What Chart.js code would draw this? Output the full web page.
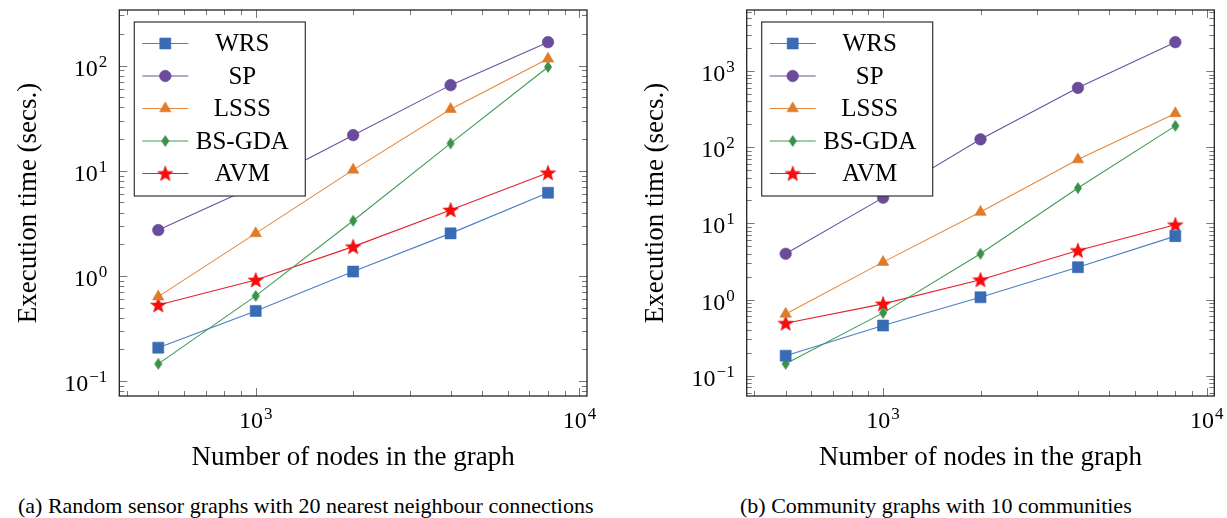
<!DOCTYPE html>
<html>
<head>
<meta charset="utf-8">
<script src="https://cdn.jsdelivr.net/npm/chart.js@4.4.0/dist/chart.umd.min.js"></script>
<style>
  body { margin: 0; background: #fff; width: 1227px; height: 518px; position: relative; overflow: hidden; font-family: "Liberation Serif", serif; }
  canvas { position: absolute; top: 0; }
  #chartA { left: 0; }
  #chartB { left: 627px; }
  .cap { position: absolute; top: 495px; font-size: 22px; line-height: 1; white-space: nowrap; color: #000; }
</style>
</head>
<body>
<canvas id="chartA" width="610" height="480"></canvas>
<canvas id="chartB" width="600" height="480"></canvas>
<div class="cap" style="left:18px">(a) Random sensor graphs with 20 nearest neighbour connections</div>
<div class="cap" style="left:740px">(b) Community graphs with 10 communities</div>
<script>
// number of nodes (x axis)
const nodes = [500, 1000, 2000, 4000, 8000];
const methods = ['WRS', 'SP', 'LSSS', 'BS-GDA', 'AVM'];

// (a) random sensor graphs, execution time in secs
const wrsA   = [0.208, 0.465, 1.10, 2.54, 6.18];
const spA    = [2.73, 7.2, 21.8, 65.2, 167];
const lsssA  = [0.636, 2.54, 10.2, 38.5, 116];
const bsgdaA = [0.146, 0.646, 3.35, 18.2, 97];
const avmA   = [0.53, 0.916, 1.90, 4.24, 9.57];

// (b) community graphs
const wrsB   = [0.183, 0.455, 1.07, 2.66, 6.8];
const spB    = [3.99, 21.8, 127, 603, 2400];
const lsssB  = [0.647, 3.1, 14.1, 68.9, 278];
const bsgdaB = [0.143, 0.668, 3.99, 29.1, 191];
const avmB   = [0.488, 0.877, 1.82, 4.41, 9.6];

const lineColors = ['#4a7fc1', '#6d4fa0', '#e8883a', '#3f9c55', '#e8202a'];
const markColors = ['#3a6bb5', '#6b4c9a', '#e07b2a', '#3a9147', '#ff0a0a'];

function starImg(color) {
  const c = document.createElement('canvas');
  c.width = c.height = 18;
  const g = c.getContext('2d');
  g.beginPath();
  for (let i = 0; i < 10; i++) {
    const a = -Math.PI / 2 + i * Math.PI / 5;
    const r = i % 2 ? 3.3 : 8;
    g.lineTo(9 + r * Math.cos(a), 9.6 + r * Math.sin(a));
  }
  g.closePath();
  g.fillStyle = color;
  g.fill();
  g.strokeStyle = '#d40000';
  g.lineWidth = 0.6;
  g.stroke();
  return c;
}
function diamondImg(color) {
  const c = document.createElement('canvas');
  c.width = 10; c.height = 14;
  const g = c.getContext('2d');
  g.beginPath();
  g.moveTo(5, 1); g.lineTo(9, 7); g.lineTo(5, 13); g.lineTo(1, 7);
  g.closePath();
  g.fillStyle = color;
  g.fill();
  return c;
}
const styles = ['rect', 'circle', 'triangle', diamondImg(markColors[3]), starImg(markColors[4])];
const radii = [7.8, 5.8, 6.6, 6, 8];

function makeSets(series) {
  return series.map((vals, i) => ({
    label: methods[i],
    data: nodes.map((n, j) => ({ x: n, y: vals[j] })),
    borderColor: lineColors[i],
    borderWidth: 1.1,
    backgroundColor: markColors[i],
    pointBackgroundColor: markColors[i],
    pointBorderColor: markColors[i],
    pointBorderWidth: 0.6,
    pointStyle: styles[i],
    pointRadius: radii[i],
    tension: 0
  }));
}

// pgfplots style: enlarge log limits by 10% on each side
function limits(arr) {
  const lo = Math.log10(Math.min(...arr)), hi = Math.log10(Math.max(...arr));
  const e = (hi - lo) * 0.1;
  return [Math.pow(10, lo - e), Math.pow(10, hi + e)];
}

function drawPow(ctx, exp, x, y, align) {
  ctx.font = '24px "Liberation Serif"';
  const w1 = ctx.measureText('10').width;
  ctx.font = '17px "Liberation Serif"';
  const w2 = ctx.measureText(String(exp).replace('-', '\u2212')).width;
  const total = w1 + w2 + 1;
  let x0 = align === 'right' ? x - total : x - total / 2;
  ctx.textAlign = 'left';
  ctx.textBaseline = 'alphabetic';
  ctx.font = '24px "Liberation Serif"';
  ctx.fillText('10', x0, y);
  ctx.font = '17px "Liberation Serif"';
  ctx.fillText(String(exp).replace('-', '\u2212'), x0 + w1 + 1, y - 9);
}

const frame = {
  id: 'frame',
  beforeDatasetsDraw(chart) {
    const { ctx, chartArea: a, scales } = chart;
    ctx.save();
    ctx.strokeStyle = '#777';
    ctx.lineWidth = 1;
    ['x', 'y'].forEach(k => {
      const s = scales[k];
      for (let p = Math.floor(Math.log10(s.min)); p <= Math.ceil(Math.log10(s.max)); p++) {
        for (let m = 1; m <= 9; m++) {
          const v = m * Math.pow(10, p);
          if (v < s.min || v > s.max) continue;
          const len = m === 1 ? 8 : 5;
          const pix = Math.round(s.getPixelForValue(v)) + 0.5;
          ctx.beginPath();
          if (k === 'x') {
            ctx.moveTo(pix, a.bottom); ctx.lineTo(pix, a.bottom - len);
            ctx.moveTo(pix, a.top); ctx.lineTo(pix, a.top + len);
          } else {
            ctx.moveTo(a.left, pix); ctx.lineTo(a.left + len, pix);
            ctx.moveTo(a.right, pix); ctx.lineTo(a.right - len, pix);
          }
          ctx.stroke();
        }
      }
    });
    ctx.restore();
  },
  afterDraw(chart) {
    const { ctx, chartArea: a, scales } = chart;
    ctx.save();
    ctx.strokeStyle = '#222';
    ctx.lineWidth = 1.3;
    ctx.strokeRect(a.left, a.top, a.right - a.left, a.bottom - a.top);
    ctx.fillStyle = '#000';
    // tick labels
    ['x', 'y'].forEach(k => {
      const s = scales[k];
      for (let p = Math.ceil(Math.log10(s.min)); p <= Math.floor(Math.log10(s.max) + 1e-9); p++) {
        const pix = s.getPixelForValue(Math.pow(10, p));
        if (k === 'x') drawPow(ctx, p, pix, a.bottom + 32, 'center');
        else drawPow(ctx, p, a.left - 12, pix + 10, 'right');
      }
    });
    // axis titles
    ctx.font = '27px "Liberation Serif"';
    ctx.textAlign = 'center';
    ctx.textBaseline = 'alphabetic';
    ctx.fillText('Number of nodes in the graph', (a.left + a.right) / 2, 465);
    ctx.save();
    ctx.translate(36, (a.top + a.bottom) / 2);
    ctx.rotate(-Math.PI / 2);
    ctx.fillText('Execution time (secs.)', 0, 0);
    ctx.restore();

    // legend box
    const bx = a.left + 15, by = 22, bw = 171, bh = 174;
    ctx.fillStyle = '#fff';
    ctx.fillRect(bx, by, bw, bh);
    ctx.strokeStyle = '#333';
    ctx.lineWidth = 1.2;
    ctx.strokeRect(bx, by, bw, bh);
    chart.data.datasets.forEach((ds, i) => {
      const ry = by + 21.5 + i * 32.5;
      ctx.strokeStyle = ds.borderColor;
      ctx.lineWidth = 1.2;
      ctx.beginPath();
      ctx.moveTo(bx + 8, ry); ctx.lineTo(bx + 54, ry);
      ctx.stroke();
      ctx.fillStyle = ds.pointBackgroundColor;
      ctx.strokeStyle = ds.pointBorderColor;
      ctx.lineWidth = 0.6;
      Chart.helpers.drawPoint(ctx, { pointStyle: ds.pointStyle, radius: ds.pointRadius, borderWidth: 0.6, rotation: 0 }, bx + 31, ry);
      ctx.fillStyle = '#000';
      ctx.font = '25px "Liberation Serif"';
      ctx.textAlign = 'center';
      ctx.textBaseline = 'middle';
      ctx.fillText(ds.label, bx + 108, ry + 1);
    });
    ctx.restore();
  }
};

function build(id, series, axisW, padRight) {
  const [xmin, xmax] = limits(nodes);
  const [ymin, ymax] = limits(series.flat());
  return new Chart(document.getElementById(id), {
    type: 'line',
    data: { datasets: makeSets(series) },
    options: {
      responsive: false,
      animation: false,
      layout: { padding: { top: 10, right: padRight, left: 0, bottom: 0 } },
      plugins: { legend: { display: false }, tooltip: { enabled: false } },
      scales: {
        x: {
          type: 'logarithmic', min: xmin, max: xmax,
          ticks: { display: false }, grid: { display: false }, border: { display: false },
          afterFit: s => { s.height = 84; }
        },
        y: {
          type: 'logarithmic', min: ymin, max: ymax,
          ticks: { display: false }, grid: { display: false }, border: { display: false },
          afterFit: s => { s.width = axisW; }
        }
      }
    },
    plugins: [frame]
  });
}

build('chartA', [wrsA, spA, lsssA, bsgdaA, avmA], 119.3, 23);
build('chartB', [wrsB, spB, lsssB, bsgdaB, avmB], 119.7, 12.7);
</script>
</body>
</html>
